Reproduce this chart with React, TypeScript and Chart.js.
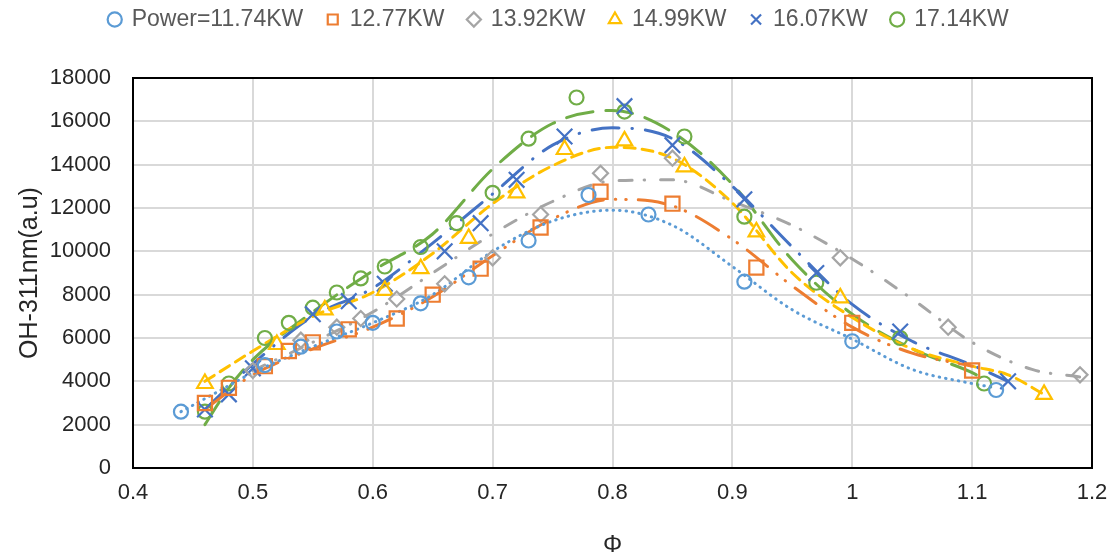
import React, { useEffect, useRef } from "react";
import { Chart, registerables } from "chart.js";

Chart.register(...registerables);

// ---- measured points (Φ, OH-311nm intensity) ----
const seriesLabels = ["Power=11.74KW", "12.77KW", "13.92KW", "14.99KW", "16.07KW", "17.14KW"];

const phi1174 = [0.44, 0.51, 0.54, 0.57, 0.6, 0.64, 0.68, 0.73, 0.78, 0.83, 0.91, 1.0, 1.12];
const oh1174 = [2600, 4750, 5600, 6300, 6700, 7600, 8800, 10500, 12600, 11700, 8600, 5850, 3600];

const phi1277 = [0.46, 0.48, 0.51, 0.53, 0.55, 0.58, 0.62, 0.65, 0.69, 0.74, 0.79, 0.85, 0.92, 1.0, 1.1];
const oh1277 = [3000, 3700, 4700, 5400, 5800, 6400, 6900, 8000, 9200, 11100, 12750, 12200, 9250, 6700, 4500];

const phi1392 = [0.5, 0.54, 0.57, 0.59, 0.62, 0.66, 0.7, 0.74, 0.79, 0.85, 0.99, 1.08, 1.19];
const oh1392 = [4500, 5900, 6500, 6900, 7800, 8500, 9700, 11700, 13600, 14300, 9700, 6500, 4300];

const phi1499 = [0.46, 0.52, 0.56, 0.61, 0.64, 0.68, 0.72, 0.76, 0.81, 0.86, 0.92, 0.99, 1.16];
const oh1499 = [3900, 5700, 7300, 8200, 9200, 10600, 12700, 14700, 15100, 13900, 10900, 7850, 3400];

const phi1607 = [0.46, 0.48, 0.5, 0.55, 0.58, 0.61, 0.66, 0.69, 0.72, 0.76, 0.81, 0.85, 0.91, 0.97, 1.04, 1.13];
const oh1607 = [2700, 3400, 4600, 7100, 7700, 8500, 10000, 11300, 13300, 15300, 16700, 14900, 12400, 9000, 6300, 4000];

const phi1714 = [0.46, 0.48, 0.51, 0.53, 0.55, 0.57, 0.59, 0.61, 0.64, 0.67, 0.7, 0.73, 0.77, 0.81, 0.86, 0.91, 0.97, 1.04, 1.11];
const oh1714 = [2600, 3900, 6000, 6700, 7400, 8100, 8750, 9300, 10200, 11300, 12700, 15200, 17100, 16450, 15300, 11600, 8550, 6000, 3900];

// ---- trendlines ----
const trPhi1174 = [0.44, 0.47, 0.5, 0.55, 0.6, 0.65, 0.7, 0.75, 0.8, 0.85, 0.9, 0.95, 1.0, 1.05, 1.1, 1.12];
const trOh1174 = [2600, 3500, 4400, 5600, 6700, 8000, 10000, 11400, 11900, 11200, 9300, 7300, 5950, 4550, 3900, 3700];

const trPhi1277 = [0.46, 0.5, 0.55, 0.6, 0.65, 0.7, 0.75, 0.8, 0.85, 0.9, 0.95, 1.0, 1.05, 1.1];
const trOh1277 = [2700, 4300, 5500, 6500, 7900, 9800, 11500, 12400, 12100, 10550, 8400, 6500, 5300, 4700];

const trPhi1392 = [0.5, 0.55, 0.6, 0.65, 0.7, 0.75, 0.8, 0.85, 0.9, 0.95, 1.0, 1.05, 1.1, 1.15, 1.19];
const trOh1392 = [4500, 5800, 7200, 9000, 10800, 12300, 13250, 13300, 12300, 11200, 9650, 7800, 5800, 4550, 4200];

const trPhi1499 = [0.46, 0.5, 0.55, 0.6, 0.65, 0.7, 0.75, 0.8, 0.85, 0.9, 0.95, 1.0, 1.05, 1.1, 1.13, 1.16];
const trOh1499 = [4000, 5400, 7000, 8100, 9900, 12200, 13950, 14800, 14300, 12230, 9000, 6950, 5500, 4700, 4300, 3400];

const trPhi1607 = [0.46, 0.5, 0.55, 0.6, 0.65, 0.7, 0.75, 0.8, 0.85, 0.9, 0.95, 1.0, 1.05, 1.1, 1.13];
const trOh1607 = [2700, 4800, 7000, 8300, 10380, 12650, 14900, 15700, 15200, 13000, 10200, 7550, 5850, 4750, 4000];

const trPhi1714 = [0.46, 0.48, 0.5, 0.55, 0.6, 0.65, 0.7, 0.75, 0.8, 0.85, 0.9, 0.95, 1.0, 1.05, 1.1, 1.11];
const trOh1714 = [2000, 3700, 5000, 7200, 9100, 10800, 13800, 15900, 16500, 15500, 13100, 9600, 7100, 5500, 4400, 4100];

// ---- axis ticks ----
const xMin = 0.4, xMax = 1.2, xStep = 0.1;
const yMin = 0, yMax = 18000, yStep = 2000;
const xTitle = "Φ";
const yTitle = "OH-311nm(a.u)";

const pts = (xs: number[], ys: number[]) => xs.map((x, i) => ({ x, y: ys[i] }));

export default function App() {
  const ref = useRef<HTMLCanvasElement | null>(null);

  useEffect(() => {
    if (!ref.current) return;
    const colors = ["#5B9BD5", "#ED7D31", "#A5A5A5", "#FFC000", "#4472C4", "#70AD47"];
    const styles = ["circle", "rect", "rectRot", "triangle", "crossRot", "circle"];
    const radii = [7, 10, 7.5, 9, 11, 7];
    const measured = [
      [phi1174, oh1174], [phi1277, oh1277], [phi1392, oh1392],
      [phi1499, oh1499], [phi1607, oh1607], [phi1714, oh1714],
    ];
    const trends = [
      [trPhi1174, trOh1174], [trPhi1277, trOh1277], [trPhi1392, trOh1392],
      [trPhi1499, trOh1499], [trPhi1607, trOh1607], [trPhi1714, trOh1714],
    ];
    const dashes = [
      [0.5, 6],
      [26, 12, 0.5, 10, 0.5, 12],
      [13, 12, 0.5, 16],
      [11, 7],
      [27, 13, 0.5, 13],
      [27, 13],
    ];

    const scatterSets = measured.map((m, i) => ({
      label: seriesLabels[i],
      data: pts(m[0], m[1]),
      showLine: false,
      pointStyle: styles[i],
      pointRadius: radii[i],
      pointBorderWidth: 2.2,
      borderColor: colors[i],
      backgroundColor: "rgba(0,0,0,0)",
      pointBackgroundColor: "rgba(0,0,0,0)",
      pointBorderColor: colors[i],
      borderWidth: 2.2,
    }));
    const trendSets = trends.map((t, i) => ({
      label: "trend " + seriesLabels[i],
      data: pts(t[0], t[1]),
      showLine: true,
      pointRadius: 0,
      borderColor: colors[i],
      borderWidth: 3,
      borderDash: dashes[i],
      borderCapStyle: "round",
      cubicInterpolationMode: "monotone",
      fill: false,
    }));

    const frame = {
      id: "frame",
      beforeUpdate(chart: any) {
        const lg = chart.legend;
        if (lg && !lg.__patched) {
          const origFit = lg.fit.bind(lg);
          lg.fit = function () {
            origFit();
            this.height = 94;
          };
          const origDraw = lg.draw.bind(lg);
          lg.draw = function () {
            const l = this.left, r = this.right;
            this.left = l + 13;
            this.right = r + 13;
            origDraw();
            this.left = l;
            this.right = r;
          };
          lg.__patched = true;
        }
      },
      afterDatasetsDraw(chart: any) {
        const { ctx, chartArea: a } = chart;
        ctx.save();
        ctx.strokeStyle = "#000";
        ctx.lineWidth = 2;
        ctx.strokeRect(a.left, a.top, a.right - a.left, a.bottom - a.top);
        ctx.restore();
      },
    };

    const chart = new Chart(ref.current, {
      type: "scatter",
      data: { datasets: [...scatterSets, ...trendSets] as any },
      options: {
        animation: false,
        responsive: true,
        maintainAspectRatio: false,
        layout: { padding: { left: 0, right: 18, top: -16, bottom: 0 } },
        plugins: {
          tooltip: { enabled: false },
          legend: {
            position: "top",
            labels: {
              filter: (item: any) => item.datasetIndex < 6,
              usePointStyle: true,
              boxWidth: 11,
              boxHeight: 10,
              padding: 24,
              color: "#595959",
              font: { family: "'Liberation Sans', Arial, sans-serif", size: 23 },
            },
          },
        },
        scales: {
          x: {
            type: "linear",
            min: xMin,
            max: xMax,
            afterFit: (s: any) => { s.height = 89; s.paddingRight = 0; s.paddingLeft = 0; },
            ticks: {
              stepSize: xStep,
              padding: 12,
              color: "#262626",
              font: { family: "'Liberation Sans', Arial, sans-serif", size: 22 },
              callback: (v: any) => String(Math.round(Number(v) * 10) / 10),
            },
            grid: { color: "#d9d9d9", lineWidth: 2, drawTicks: false },
            border: { display: false },
            title: {
              display: true,
              text: xTitle,
              color: "#262626",
              font: { family: "'Liberation Sans', Arial, sans-serif", size: 24 },
              padding: { top: 0, bottom: -3 },
            },
          },
          y: {
            type: "linear",
            min: yMin,
            max: yMax,
            afterFit: (s: any) => { s.width = 133; },
            ticks: {
              stepSize: yStep,
              padding: 22,
              color: "#262626",
              font: { family: "'Liberation Sans', Arial, sans-serif", size: 22 },
              callback: (v: any) => String(Math.round(Number(v))),
            },
            grid: { color: "#d9d9d9", lineWidth: 2, drawTicks: false },
            border: { display: false },
            title: {
              display: true,
              text: yTitle,
              color: "#262626",
              font: { family: "'Liberation Sans', Arial, sans-serif", size: 25 },
              padding: { top: 15, bottom: 0 },
            },
          },
        },
      },
      plugins: [frame],
    } as any);

    return () => chart.destroy();
  }, []);

  return (
    <div style={{ position: "fixed", left: 0, top: 0, width: 1110, height: 557, background: "#fff" }}>
      <canvas ref={ref} />
    </div>
  );
}
